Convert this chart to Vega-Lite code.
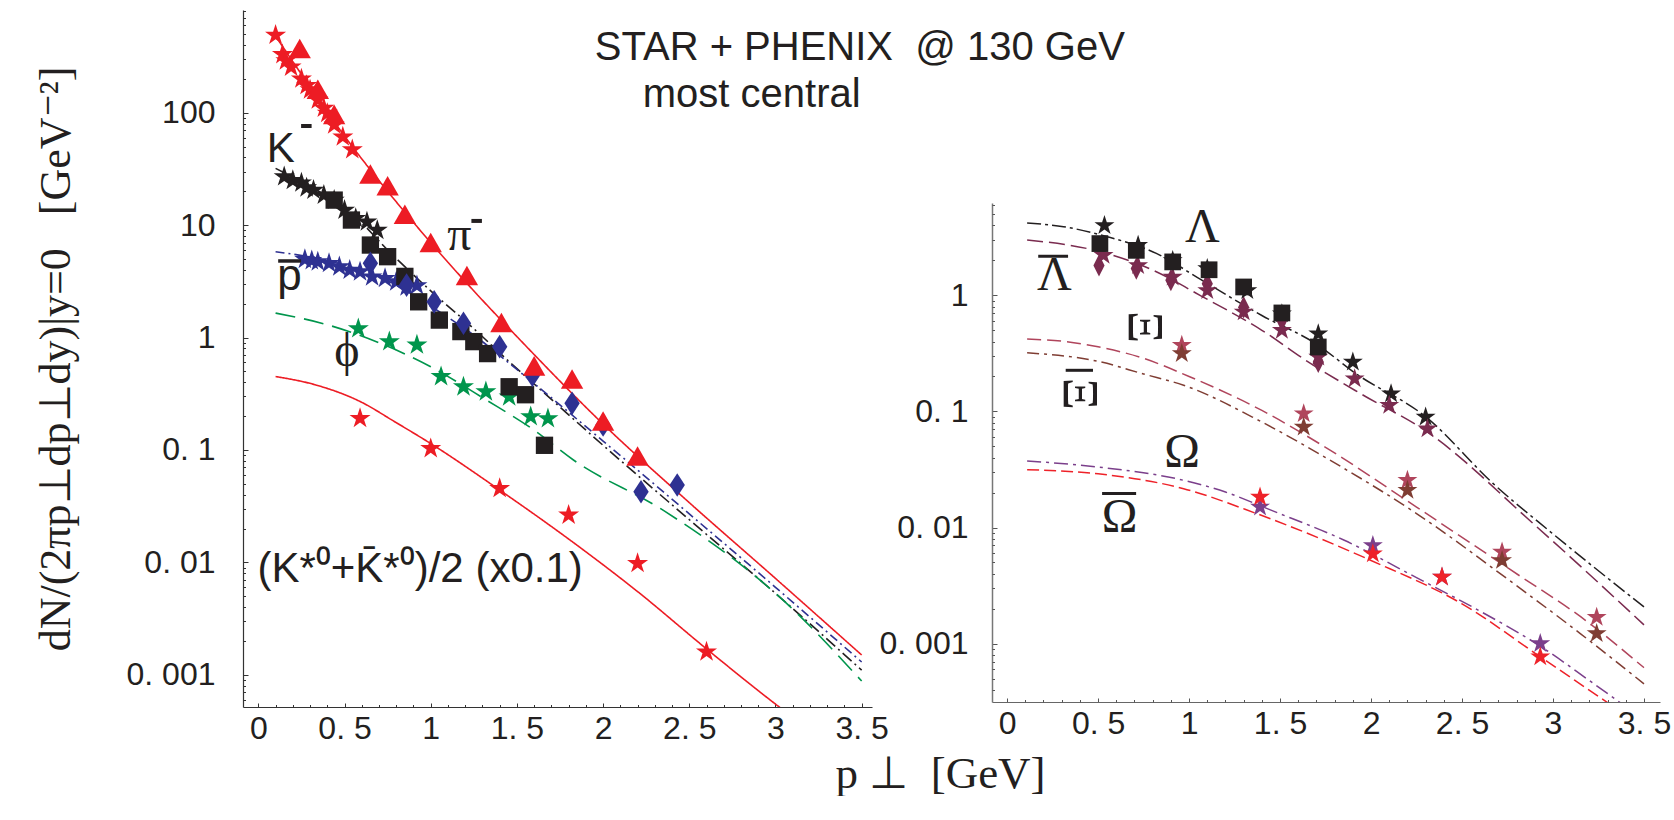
{
  "$schema": "https://vega.github.io/schema/vega-lite/v6.json",
  "padding": {"left": 34, "top": 10, "right": 0, "bottom": 0},
  "autosize": {"type": "pad"},
  "background": "white",
  "config": {"view": {"stroke": null}, "axis": {"grid": false}},
  "bounds": "flush",
  "spacing": 120,
  "datasets": {
    "lc": [
      {"s":"pi","x":0.1,"y":480},{"s":"pi","x":0.3,"y":170},{"s":"pi","x":0.5,"y":62},{"s":"pi","x":0.75,"y":20},{"s":"pi","x":1.0,"y":7.0},{"s":"pi","x":1.25,"y":2.6},{"s":"pi","x":1.5,"y":1.02},{"s":"pi","x":2.0,"y":0.17},{"s":"pi","x":2.5,"y":0.034},{"s":"pi","x":3.0,"y":0.0072},{"s":"pi","x":3.5,"y":0.0015},
      {"s":"K","x":0.1,"y":32},{"s":"K","x":0.3,"y":22},{"s":"K","x":0.5,"y":14.5},{"s":"K","x":0.77,"y":5.6},{"s":"K","x":1.0,"y":2.6},{"s":"K","x":1.25,"y":1.2},{"s":"K","x":1.45,"y":0.62},{"s":"K","x":1.65,"y":0.33},{"s":"K","x":2.0,"y":0.11},{"s":"K","x":2.5,"y":0.024},{"s":"K","x":3.0,"y":0.0053},{"s":"K","x":3.5,"y":0.0011},
      {"s":"pbar","x":0.1,"y":5.8},{"s":"pbar","x":0.3,"y":5.2},{"s":"pbar","x":0.5,"y":4.4},{"s":"pbar","x":0.75,"y":3.2},{"s":"pbar","x":1.0,"y":1.9},{"s":"pbar","x":1.25,"y":1.05},{"s":"pbar","x":1.5,"y":0.52},{"s":"pbar","x":2.0,"y":0.12},{"s":"pbar","x":2.5,"y":0.027},{"s":"pbar","x":3.0,"y":0.006},{"s":"pbar","x":3.5,"y":0.0013},
      {"s":"phi","x":0.1,"y":1.65},{"s":"phi","x":0.4,"y":1.3},{"s":"phi","x":0.7,"y":0.9},{"s":"phi","x":1.0,"y":0.55},{"s":"phi","x":1.32,"y":0.28},{"s":"phi","x":1.6,"y":0.15},{"s":"phi","x":1.83,"y":0.081},{"s":"phi","x":2.35,"y":0.029},{"s":"phi","x":3.08,"y":0.0041},{"s":"phi","x":3.5,"y":0.00088},
      {"s":"Kstar","x":0.1,"y":0.45},{"s":"Kstar","x":0.33,"y":0.38},{"s":"Kstar","x":0.59,"y":0.27},{"s":"Kstar","x":0.8,"y":0.175},{"s":"Kstar","x":1.0,"y":0.114},{"s":"Kstar","x":1.4,"y":0.044},{"s":"Kstar","x":1.86,"y":0.0138},{"s":"Kstar","x":2.2,"y":0.0055},{"s":"Kstar","x":2.6,"y":0.0017},{"s":"Kstar","x":3.02,"y":0.00052},{"s":"Kstar","x":3.1,"y":0.00042}
    ],
    "lp": [
      {"s":"pi","src":"STAR","x":0.10,"y":490},{"s":"pi","src":"STAR","x":0.14,"y":330},{"s":"pi","src":"STAR","x":0.16,"y":290},{"s":"pi","src":"STAR","x":0.19,"y":255},{"s":"pi","src":"STAR","x":0.25,"y":200},{"s":"pi","src":"STAR","x":0.28,"y":175},{"s":"pi","src":"STAR","x":0.30,"y":160},{"s":"pi","src":"STAR","x":0.345,"y":130},{"s":"pi","src":"STAR","x":0.38,"y":110},{"s":"pi","src":"STAR","x":0.40,"y":99},{"s":"pi","src":"STAR","x":0.44,"y":78},{"s":"pi","src":"STAR","x":0.49,"y":61},{"s":"pi","src":"STAR","x":0.545,"y":47},
      {"s":"pi","src":"PHENIX","x":0.24,"y":366},{"s":"pi","src":"PHENIX","x":0.345,"y":159},{"s":"pi","src":"PHENIX","x":0.44,"y":95},{"s":"pi","src":"PHENIX","x":0.65,"y":28},{"s":"pi","src":"PHENIX","x":0.75,"y":22},{"s":"pi","src":"PHENIX","x":0.85,"y":12.3},{"s":"pi","src":"PHENIX","x":1.0,"y":6.9},{"s":"pi","src":"PHENIX","x":1.21,"y":3.5},{"s":"pi","src":"PHENIX","x":1.41,"y":1.34},{"s":"pi","src":"PHENIX","x":1.60,"y":0.55},{"s":"pi","src":"PHENIX","x":1.82,"y":0.42},{"s":"pi","src":"PHENIX","x":2.0,"y":0.178},{"s":"pi","src":"PHENIX","x":2.2,"y":0.087},
      {"s":"K","src":"STAR","x":0.15,"y":27},{"s":"K","src":"STAR","x":0.2,"y":25},{"s":"K","src":"STAR","x":0.25,"y":23.8},{"s":"K","src":"STAR","x":0.28,"y":21.5},{"s":"K","src":"STAR","x":0.32,"y":20.5},{"s":"K","src":"STAR","x":0.38,"y":18.5},{"s":"K","src":"STAR","x":0.44,"y":16.7},{"s":"K","src":"STAR","x":0.50,"y":13.6},{"s":"K","src":"STAR","x":0.565,"y":11.5},{"s":"K","src":"STAR","x":0.63,"y":10.7},{"s":"K","src":"STAR","x":0.69,"y":9.0},
      {"s":"K","src":"PHENIX","x":0.44,"y":16.7},{"s":"K","src":"PHENIX","x":0.54,"y":11.1},{"s":"K","src":"PHENIX","x":0.65,"y":6.65},{"s":"K","src":"PHENIX","x":0.75,"y":5.24},{"s":"K","src":"PHENIX","x":0.85,"y":3.5},{"s":"K","src":"PHENIX","x":0.93,"y":2.08},{"s":"K","src":"PHENIX","x":1.05,"y":1.43},{"s":"K","src":"PHENIX","x":1.175,"y":1.13},{"s":"K","src":"PHENIX","x":1.25,"y":0.92},{"s":"K","src":"PHENIX","x":1.33,"y":0.72},{"s":"K","src":"PHENIX","x":1.455,"y":0.365},{"s":"K","src":"PHENIX","x":1.55,"y":0.31},{"s":"K","src":"PHENIX","x":1.66,"y":0.11},
      {"s":"pbar","src":"STAR","x":0.27,"y":4.96},{"s":"pbar","src":"STAR","x":0.31,"y":4.85},{"s":"pbar","src":"STAR","x":0.345,"y":4.72},{"s":"pbar","src":"STAR","x":0.41,"y":4.57},{"s":"pbar","src":"STAR","x":0.47,"y":4.27},{"s":"pbar","src":"STAR","x":0.53,"y":3.98},{"s":"pbar","src":"STAR","x":0.59,"y":3.85},{"s":"pbar","src":"STAR","x":0.66,"y":3.47},{"s":"pbar","src":"STAR","x":0.735,"y":3.36},{"s":"pbar","src":"STAR","x":0.80,"y":3.14},{"s":"pbar","src":"STAR","x":0.86,"y":2.83},{"s":"pbar","src":"STAR","x":0.92,"y":2.9},
      {"s":"pbar","src":"PHENIX","x":0.65,"y":4.57},{"s":"pbar","src":"PHENIX","x":0.86,"y":2.93},{"s":"pbar","src":"PHENIX","x":1.02,"y":2.08},{"s":"pbar","src":"PHENIX","x":1.19,"y":1.34},{"s":"pbar","src":"PHENIX","x":1.40,"y":0.83},{"s":"pbar","src":"PHENIX","x":1.59,"y":0.46},{"s":"pbar","src":"PHENIX","x":1.82,"y":0.26},{"s":"pbar","src":"PHENIX","x":2.0,"y":0.167},{"s":"pbar","src":"PHENIX","x":2.22,"y":0.0425},{"s":"pbar","src":"PHENIX","x":2.43,"y":0.0488},
      {"s":"phi","src":"STAR","x":0.58,"y":1.2},{"s":"phi","src":"STAR","x":0.76,"y":0.92},{"s":"phi","src":"STAR","x":0.92,"y":0.86},{"s":"phi","src":"STAR","x":1.06,"y":0.45},{"s":"phi","src":"STAR","x":1.19,"y":0.365},{"s":"phi","src":"STAR","x":1.32,"y":0.33},{"s":"phi","src":"STAR","x":1.455,"y":0.297},{"s":"phi","src":"STAR","x":1.58,"y":0.198},{"s":"phi","src":"STAR","x":1.68,"y":0.19},
      {"s":"Kstar","src":"STAR","x":0.59,"y":0.191},{"s":"Kstar","src":"STAR","x":1.0,"y":0.103},{"s":"Kstar","src":"STAR","x":1.4,"y":0.0455},{"s":"Kstar","src":"STAR","x":1.8,"y":0.0264},{"s":"Kstar","src":"STAR","x":2.2,"y":0.0098},{"s":"Kstar","src":"STAR","x":2.6,"y":0.0016}
    ],
    "rc": [
      {"s":"L","x":0.11,"y":4.2},{"s":"L","x":0.31,"y":3.9},{"s":"L","x":0.55,"y":3.2},{"s":"L","x":0.82,"y":2.3},{"s":"L","x":1.07,"y":1.35},{"s":"L","x":1.4,"y":0.67},{"s":"L","x":1.7,"y":0.38},{"s":"L","x":1.92,"y":0.21},{"s":"L","x":2.3,"y":0.09},{"s":"L","x":2.67,"y":0.024},{"s":"L","x":3.0,"y":0.0088},{"s":"L","x":3.5,"y":0.00207},
      {"s":"Lb","x":0.11,"y":3.0},{"s":"Lb","x":0.5,"y":2.4},{"s":"Lb","x":0.8,"y":1.65},{"s":"Lb","x":1.07,"y":0.98},{"s":"Lb","x":1.4,"y":0.5},{"s":"Lb","x":1.65,"y":0.27},{"s":"Lb","x":1.95,"y":0.14},{"s":"Lb","x":2.3,"y":0.068},{"s":"Lb","x":2.9,"y":0.0105},{"s":"Lb","x":3.5,"y":0.00145},
      {"s":"Xi","x":0.11,"y":0.42},{"s":"Xi","x":0.32,"y":0.40},{"s":"Xi","x":0.5,"y":0.36},{"s":"Xi","x":0.74,"y":0.29},{"s":"Xi","x":1.0,"y":0.2},{"s":"Xi","x":1.4,"y":0.102},{"s":"Xi","x":1.75,"y":0.049},{"s":"Xi","x":2.25,"y":0.015},{"s":"Xi","x":2.75,"y":0.0045},{"s":"Xi","x":3.18,"y":0.00158},{"s":"Xi","x":3.5,"y":0.00062},
      {"s":"Xib","x":0.11,"y":0.32},{"s":"Xib","x":0.5,"y":0.27},{"s":"Xib","x":0.75,"y":0.21},{"s":"Xib","x":0.97,"y":0.168},{"s":"Xib","x":1.4,"y":0.081},{"s":"Xib","x":1.75,"y":0.04},{"s":"Xib","x":2.25,"y":0.0132},{"s":"Xib","x":2.75,"y":0.0036},{"s":"Xib","x":3.15,"y":0.00122},{"s":"Xib","x":3.5,"y":0.00045},
      {"s":"Om","x":0.11,"y":0.0374},{"s":"Om","x":0.5,"y":0.0332},{"s":"Om","x":0.97,"y":0.0255},{"s":"Om","x":1.2,"y":0.0202},{"s":"Om","x":1.45,"y":0.0141},{"s":"Om","x":1.85,"y":0.0078},{"s":"Om","x":2.25,"y":0.0037},{"s":"Om","x":2.6,"y":0.0019},{"s":"Om","x":2.93,"y":0.00095},{"s":"Om","x":3.2,"y":0.00048},{"s":"Om","x":3.5,"y":0.00022},
      {"s":"Omb","x":0.11,"y":0.0315},{"s":"Omb","x":0.5,"y":0.029},{"s":"Omb","x":0.97,"y":0.0216},{"s":"Omb","x":1.37,"y":0.0132},{"s":"Omb","x":2.0,"y":0.0052},{"s":"Omb","x":2.5,"y":0.0022},{"s":"Omb","x":2.93,"y":0.00077},{"s":"Omb","x":3.3,"y":0.00031},{"s":"Omb","x":3.5,"y":0.00019}
    ],
    "rp": [
      {"s":"Lb","src":"PHENIX","x":0.505,"y":1.81},{"s":"Lb","src":"PHENIX","x":0.71,"y":1.7},{"s":"Lb","src":"PHENIX","x":0.90,"y":1.35},{"s":"Lb","src":"PHENIX","x":1.10,"y":1.26},{"s":"Lb","src":"PHENIX","x":1.30,"y":0.79},{"s":"Lb","src":"PHENIX","x":1.51,"y":0.61},{"s":"Lb","src":"PHENIX","x":1.71,"y":0.267},
      {"s":"L","src":"STAR","x":0.535,"y":4.0},{"s":"L","src":"STAR","x":0.72,"y":2.7},{"s":"L","src":"STAR","x":0.91,"y":2.0},{"s":"L","src":"STAR","x":1.10,"y":1.7},{"s":"L","src":"STAR","x":1.32,"y":1.1},{"s":"L","src":"STAR","x":1.51,"y":0.695},{"s":"L","src":"STAR","x":1.71,"y":0.467},{"s":"L","src":"STAR","x":1.90,"y":0.267},{"s":"L","src":"STAR","x":2.11,"y":0.142},{"s":"L","src":"STAR","x":2.30,"y":0.0895},
      {"s":"Lb","src":"STAR","x":0.53,"y":2.21},{"s":"Lb","src":"STAR","x":0.72,"y":1.81},{"s":"Lb","src":"STAR","x":0.91,"y":1.44},{"s":"Lb","src":"STAR","x":1.10,"y":1.1},{"s":"Lb","src":"STAR","x":1.30,"y":0.72},{"s":"Lb","src":"STAR","x":1.51,"y":0.5},{"s":"Lb","src":"STAR","x":1.71,"y":0.294},{"s":"Lb","src":"STAR","x":1.91,"y":0.191},{"s":"Lb","src":"STAR","x":2.10,"y":0.113},{"s":"Lb","src":"STAR","x":2.31,"y":0.071},
      {"s":"Xi","src":"STAR","x":0.96,"y":0.371},{"s":"Xi","src":"STAR","x":1.63,"y":0.0957},{"s":"Xi","src":"STAR","x":2.20,"y":0.0255},{"s":"Xi","src":"STAR","x":2.72,"y":0.00615},{"s":"Xi","src":"STAR","x":3.24,"y":0.00169},
      {"s":"Xib","src":"STAR","x":0.96,"y":0.315},{"s":"Xib","src":"STAR","x":1.63,"y":0.0734},{"s":"Xib","src":"STAR","x":2.20,"y":0.0209},{"s":"Xib","src":"STAR","x":2.72,"y":0.00521},{"s":"Xib","src":"STAR","x":3.24,"y":0.00122},
      {"s":"Om","src":"STAR","x":1.39,"y":0.015},{"s":"Om","src":"STAR","x":2.01,"y":0.0070},{"s":"Om","src":"STAR","x":2.39,"y":0.00375},{"s":"Om","src":"STAR","x":2.93,"y":0.001},
      {"s":"Omb","src":"STAR","x":1.39,"y":0.0183},{"s":"Omb","src":"STAR","x":2.01,"y":0.00595},{"s":"Omb","src":"STAR","x":2.39,"y":0.00375},{"s":"Omb","src":"STAR","x":2.93,"y":0.00077},
      {"s":"L","src":"PHENIX","x":0.51,"y":2.79},{"s":"L","src":"PHENIX","x":0.71,"y":2.44},{"s":"L","src":"PHENIX","x":0.91,"y":1.94},{"s":"L","src":"PHENIX","x":1.11,"y":1.66},{"s":"L","src":"PHENIX","x":1.30,"y":1.18},{"s":"L","src":"PHENIX","x":1.51,"y":0.705},{"s":"L","src":"PHENIX","x":1.71,"y":0.359}
    ]
  },
  "hconcat": [
    {
      "width": 629,
      "height": 697,
      "resolve": {"axis": {"x": "independent", "y": "independent"}},
      "layer": [
        {
          "data": {"name": "lc"},
          "mark": {"type": "line", "strokeWidth": 1.6, "clip": true, "interpolate": "monotone"},
          "encoding": {
            "x": {"field": "x", "type": "quantitative", "scale": {"domain": [-0.089, 3.56], "nice": false, "zero": false},
              "axis": {"orient": "bottom", "values": [0, 0.5, 1, 1.5, 2, 2.5, 3, 3.5], "format": "~g", "labelExpr": "replace(datum.label, '.', '. ')", "labelFont": "Liberation Sans", "labelFontSize": 32, "labelColor": "#231F20", "labelPadding": 10, "tickSize": -4, "tickColor": "#333333", "domainColor": "#333333", "domainWidth": 1.2, "labelFlush": false, "labelOverlap": false, "grid": false,
                "title": "p ⊥\u00a0\u00a0[GeV]", "titleFont": "Liberation Serif", "titleFontSize": 45, "titleFontWeight": "normal", "titleColor": "#231F20", "titleX": 697, "titleY": 44}},
            "y": {"field": "y", "type": "quantitative", "scale": {"type": "log", "domain": [0.000517, 820], "nice": false},
              "axis": {"orient": "left", "values": [0.001, 0.01, 0.1, 1, 10, 100], "format": "~g", "labelExpr": "replace(datum.label, '.', '. ')", "labelFont": "Liberation Sans", "labelFontSize": 32, "labelColor": "#231F20", "labelPadding": 33, "tickSize": -5, "tickColor": "#333333", "domainColor": "#333333", "domainWidth": 1.2, "labelOverlap": false, "grid": false,
                "title": "dN/(2πp⊥dp⊥dy)|y=0\u00a0\u00a0\u00a0[GeV⁻²]", "titleFont": "Liberation Serif", "titleFontSize": 44, "titleFontWeight": "normal", "titleColor": "#231F20", "titlePadding": 48}},
            "color": {"field": "s", "type": "nominal", "legend": null, "scale": {"domain": ["pi","K","pbar","phi","Kstar","L","Lb","Xi","Xib","Om","Omb"], "range": ["#ED1C24","#231F20","#2E3192","#00954C","#ED1C24","#231F20","#7A2B4F","#B0455C","#7F3D33","#7B3F8B","#EE2229"]}},
            "strokeDash": {"field": "s", "type": "nominal", "legend": null, "scale": {"domain": ["pi","K","pbar","phi","Kstar","L","Lb","Xi","Xib","Om","Omb"], "range": [[1,0],[12,4,2,4],[9,4,2,4],[20,9],[1,0],[14,4,3,4],[16,6],[14,6],[12,5,3,5],[14,5,3,5],[12,5]]}}
          }
        },
        {
          "data": {"name": "lp"},
          "transform": [{"filter": "datum.src == 'STAR'"}],
          "mark": {"type": "point", "shape": "M0,-1L0.2245,-0.309L0.9511,-0.309L0.3633,0.118L0.5878,0.809L0,0.382L-0.5878,0.809L-0.3633,0.118L-0.9511,-0.309L-0.2245,-0.309Z", "size": 490, "filled": true, "opacity": 1, "strokeWidth": 0},
          "encoding": {
            "x": {"field": "x", "type": "quantitative", "scale": {"domain": [-0.089, 3.56], "nice": false, "zero": false},
              "axis": {"orient": "bottom", "values": [0.1,0.2,0.3,0.4,0.6,0.7,0.8,0.9,1.1,1.2,1.3,1.4,1.6,1.7,1.8,1.9,2.1,2.2,2.3,2.4,2.6,2.7,2.8,2.9,3.1,3.2,3.3,3.4], "labels": false, "domain": false, "tickSize": -2.5, "tickColor": "#333333", "title": null, "grid": false}},
            "y": {"field": "y", "type": "quantitative", "scale": {"type": "log", "domain": [0.000517, 820], "nice": false},
              "axis": {"orient": "left", "values": [0.0006,0.0007,0.0008,0.0009,0.002,0.003,0.004,0.005,0.006,0.007,0.008,0.009,0.02,0.03,0.04,0.05,0.06,0.07,0.08,0.09,0.2,0.3,0.4,0.5,0.6,0.7,0.8,0.9,2,3,4,5,6,7,8,9,20,30,40,50,60,70,80,90,200,300,400,500,600,700,800], "labels": false, "domain": false, "tickSize": -2.5, "tickColor": "#333333", "title": null, "grid": false}},
            "color": {"field": "s", "type": "nominal", "legend": null, "scale": {"domain": ["pi","K","pbar","phi","Kstar","L","Lb","Xi","Xib","Om","Omb"], "range": ["#ED1C24","#231F20","#2E3192","#00954C","#ED1C24","#231F20","#7A2B4F","#B0455C","#7F3D33","#7B3F8B","#EE2229"]}}
          }
        },
        {
          "data": {"name": "lp"},
          "transform": [{"filter": "datum.src == 'PHENIX' && datum.s == 'K'"}],
          "mark": {"type": "point", "shape": "M-1,-1L1,-1L1,1L-1,1Z", "size": 300, "filled": true, "opacity": 1, "strokeWidth": 0, "color": "#231F20"},
          "encoding": {
            "x": {"field": "x", "type": "quantitative", "scale": {"domain": [-0.089, 3.56], "nice": false, "zero": false}, "axis": null},
            "y": {"field": "y", "type": "quantitative", "scale": {"type": "log", "domain": [0.000517, 820], "nice": false}, "axis": null}
          }
        },
        {
          "data": {"name": "lp"},
          "transform": [{"filter": "datum.src == 'PHENIX' && datum.s == 'pbar'"}],
          "mark": {"type": "point", "shape": "M0,-1L0.65,0L0,1L-0.65,0Z", "size": 560, "filled": true, "opacity": 1, "strokeWidth": 0, "color": "#2E3192"},
          "encoding": {
            "x": {"field": "x", "type": "quantitative", "scale": {"domain": [-0.089, 3.56], "nice": false, "zero": false}, "axis": null},
            "y": {"field": "y", "type": "quantitative", "scale": {"type": "log", "domain": [0.000517, 820], "nice": false}, "axis": null}
          }
        },
        {
          "data": {"name": "lp"},
          "transform": [{"filter": "datum.src == 'PHENIX' && datum.s == 'pi'"}],
          "mark": {"type": "point", "shape": "M0,-0.95L1,0.8L-1,0.8Z", "size": 500, "filled": true, "opacity": 1, "strokeWidth": 0, "color": "#ED1C24"},
          "encoding": {
            "x": {"field": "x", "type": "quantitative", "scale": {"domain": [-0.089, 3.56], "nice": false, "zero": false}, "axis": null},
            "y": {"field": "y", "type": "quantitative", "scale": {"type": "log", "domain": [0.000517, 820], "nice": false}, "axis": null}
          }
        },
        {
          "data": {"values": [{}]},
          "mark": {"type": "text", "text": "STAR + PHENIX\u00a0 @ 130 GeV", "font": "Liberation Sans", "fontSize": 40, "align": "left", "baseline": "alphabetic", "color": "#231F20"},
          "encoding": {
            "x": {"datum": 1.952, "type": "quantitative", "scale": {"domain": [-0.089, 3.56], "nice": false, "zero": false}, "axis": null},
            "y": {"datum": 294, "type": "quantitative", "scale": {"type": "log", "domain": [0.000517, 820], "nice": false}, "axis": null}
          }
        },
        {
          "data": {"values": [{}]},
          "mark": {"type": "text", "text": "most central", "font": "Liberation Sans", "fontSize": 40, "align": "left", "baseline": "alphabetic", "color": "#231F20"},
          "encoding": {
            "x": {"datum": 2.23, "type": "quantitative", "scale": {"domain": [-0.089, 3.56], "nice": false, "zero": false}, "axis": null},
            "y": {"datum": 112.4, "type": "quantitative", "scale": {"type": "log", "domain": [0.000517, 820], "nice": false}, "axis": null}
          }
        },
        {
          "data": {"values": [{}]},
          "mark": {"type": "text", "text": "K", "font": "Liberation Sans", "fontSize": 42, "align": "center", "baseline": "alphabetic", "color": "#231F20"},
          "encoding": {
            "x": {"datum": 0.13, "type": "quantitative", "scale": {"domain": [-0.089, 3.56], "nice": false, "zero": false}, "axis": null},
            "y": {"datum": 36.6, "type": "quantitative", "scale": {"type": "log", "domain": [0.000517, 820], "nice": false}, "axis": null}
          }
        },
        {
          "data": {"values": [{}]},
          "mark": {"type": "rule", "strokeWidth": 4, "color": "#231F20"},
          "encoding": {
            "x": {"datum": 0.248, "type": "quantitative", "scale": {"domain": [-0.089, 3.56], "nice": false, "zero": false}, "axis": null},
            "x2": {"datum": 0.309},
            "y": {"datum": 76.2, "type": "quantitative", "scale": {"type": "log", "domain": [0.000517, 820], "nice": false}, "axis": null}
          }
        },
        {
          "data": {"values": [{}]},
          "mark": {"type": "text", "text": "π", "font": "Liberation Serif", "fontSize": 48, "align": "center", "baseline": "alphabetic", "color": "#231F20"},
          "encoding": {
            "x": {"datum": 1.166, "type": "quantitative", "scale": {"domain": [-0.089, 3.56], "nice": false, "zero": false}, "axis": null},
            "y": {"datum": 6.0, "type": "quantitative", "scale": {"type": "log", "domain": [0.000517, 820], "nice": false}, "axis": null}
          }
        },
        {
          "data": {"values": [{}]},
          "mark": {"type": "rule", "strokeWidth": 4, "color": "#231F20"},
          "encoding": {
            "x": {"datum": 1.236, "type": "quantitative", "scale": {"domain": [-0.089, 3.56], "nice": false, "zero": false}, "axis": null},
            "x2": {"datum": 1.297},
            "y": {"datum": 10.9, "type": "quantitative", "scale": {"type": "log", "domain": [0.000517, 820], "nice": false}, "axis": null}
          }
        },
        {
          "data": {"values": [{}]},
          "mark": {"type": "text", "text": "p", "font": "Liberation Sans", "fontSize": 44, "align": "center", "baseline": "alphabetic", "color": "#231F20"},
          "encoding": {
            "x": {"datum": 0.181, "type": "quantitative", "scale": {"domain": [-0.089, 3.56], "nice": false, "zero": false}, "axis": null},
            "y": {"datum": 2.65, "type": "quantitative", "scale": {"type": "log", "domain": [0.000517, 820], "nice": false}, "axis": null}
          }
        },
        {
          "data": {"values": [{}]},
          "mark": {"type": "rule", "strokeWidth": 3.5, "color": "#231F20"},
          "encoding": {
            "x": {"datum": 0.115, "type": "quantitative", "scale": {"domain": [-0.089, 3.56], "nice": false, "zero": false}, "axis": null},
            "x2": {"datum": 0.248},
            "y": {"datum": 4.8, "type": "quantitative", "scale": {"type": "log", "domain": [0.000517, 820], "nice": false}, "axis": null}
          }
        },
        {
          "data": {"values": [{}]},
          "mark": {"type": "text", "text": "ϕ", "font": "Liberation Serif", "fontSize": 48, "align": "center", "baseline": "alphabetic", "color": "#231F20"},
          "encoding": {
            "x": {"datum": 0.514, "type": "quantitative", "scale": {"domain": [-0.089, 3.56], "nice": false, "zero": false}, "axis": null},
            "y": {"datum": 0.557, "type": "quantitative", "scale": {"type": "log", "domain": [0.000517, 820], "nice": false}, "axis": null}
          }
        },
        {
          "data": {"values": [{}]},
          "mark": {"type": "text", "text": "(K*⁰+K̄*⁰)/2 (x0.1)", "font": "Liberation Sans", "fontSize": 42, "align": "left", "baseline": "alphabetic", "color": "#231F20"},
          "encoding": {
            "x": {"datum": -0.005, "type": "quantitative", "scale": {"domain": [-0.089, 3.56], "nice": false, "zero": false}, "axis": null},
            "y": {"datum": 0.00673, "type": "quantitative", "scale": {"type": "log", "domain": [0.000517, 820], "nice": false}, "axis": null}
          }
        }
      ]
    },
    {
      "bounds": "flush",
      "spacing": 0,
      "vconcat": [
        {
          "width": 668,
          "height": 193,
          "data": {"values": [{}]},
          "mark": {"type": "text", "text": " "},
          "encoding": {}
        },
        {
          "width": 668,
          "height": 499,
          "resolve": {"axis": {"x": "independent", "y": "independent"}},
          "layer": [
            {
              "data": {"name": "rc"},
              "mark": {"type": "line", "strokeWidth": 1.5, "clip": true, "interpolate": "monotone"},
              "encoding": {
                "x": {"field": "x", "type": "quantitative", "scale": {"domain": [-0.083, 3.588], "nice": false, "zero": false},
                  "axis": {"orient": "bottom", "values": [0, 0.5, 1, 1.5, 2, 2.5, 3, 3.5], "format": "~g", "labelExpr": "replace(datum.label, '.', '. ')", "labelFont": "Liberation Sans", "labelFontSize": 32, "labelColor": "#231F20", "labelPadding": 10, "tickSize": -4, "tickColor": "#555555", "domainColor": "#666666", "domainWidth": 1.2, "labelFlush": false, "labelOverlap": false, "grid": false, "title": null}},
                "y": {"field": "y", "type": "quantitative", "scale": {"type": "log", "domain": [0.000314, 6.24], "nice": false},
                  "axis": {"orient": "left", "values": [0.001, 0.01, 0.1, 1], "format": "~g", "labelExpr": "replace(datum.label, '.', '. ')", "labelFont": "Liberation Sans", "labelFontSize": 32, "labelColor": "#231F20", "labelPadding": 29, "tickSize": -5, "tickColor": "#555555", "domainColor": "#777777", "domainWidth": 1.5, "labelOverlap": false, "grid": false, "title": null}},
                "color": {"field": "s", "type": "nominal", "legend": null, "scale": {"domain": ["pi","K","pbar","phi","Kstar","L","Lb","Xi","Xib","Om","Omb"], "range": ["#ED1C24","#231F20","#2E3192","#00954C","#ED1C24","#231F20","#7A2B4F","#B0455C","#7F3D33","#7B3F8B","#EE2229"]}},
                "strokeDash": {"field": "s", "type": "nominal", "legend": null, "scale": {"domain": ["pi","K","pbar","phi","Kstar","L","Lb","Xi","Xib","Om","Omb"], "range": [[1,0],[12,4,2,4],[9,4,2,4],[20,9],[1,0],[14,4,3,4],[16,6],[14,6],[12,5,3,5],[14,5,3,5],[12,5]]}}
              }
            },
            {
              "data": {"name": "rp"},
              "transform": [{"filter": "datum.src == 'PHENIX' && datum.s == 'Lb'"}],
              "mark": {"type": "point", "shape": "M0,-1L0.5,0L0,1L-0.5,0Z", "size": 500, "filled": true, "opacity": 1, "strokeWidth": 0, "color": "#7A2B4F"},
              "encoding": {
                "x": {"field": "x", "type": "quantitative", "scale": {"domain": [-0.083, 3.588], "nice": false, "zero": false}, "axis": null},
                "y": {"field": "y", "type": "quantitative", "scale": {"type": "log", "domain": [0.000314, 6.24], "nice": false}, "axis": null}
              }
            },
            {
              "data": {"name": "rp"},
              "transform": [{"filter": "datum.src == 'STAR'"}],
              "mark": {"type": "point", "shape": "M0,-1L0.2245,-0.309L0.9511,-0.309L0.3633,0.118L0.5878,0.809L0,0.382L-0.5878,0.809L-0.3633,0.118L-0.9511,-0.309L-0.2245,-0.309Z", "size": 440, "filled": true, "opacity": 1, "strokeWidth": 0},
              "encoding": {
                "x": {"field": "x", "type": "quantitative", "scale": {"domain": [-0.083, 3.588], "nice": false, "zero": false},
                  "axis": {"orient": "bottom", "values": [0.1,0.2,0.3,0.4,0.6,0.7,0.8,0.9,1.1,1.2,1.3,1.4,1.6,1.7,1.8,1.9,2.1,2.2,2.3,2.4,2.6,2.7,2.8,2.9,3.1,3.2,3.3,3.4], "labels": false, "domain": false, "tickSize": -2.5, "tickColor": "#555555", "title": null, "grid": false}},
                "y": {"field": "y", "type": "quantitative", "scale": {"type": "log", "domain": [0.000314, 6.24], "nice": false},
                  "axis": {"orient": "left", "values": [0.0004,0.0005,0.0006,0.0007,0.0008,0.0009,0.002,0.003,0.004,0.005,0.006,0.007,0.008,0.009,0.02,0.03,0.04,0.05,0.06,0.07,0.08,0.09,0.2,0.3,0.4,0.5,0.6,0.7,0.8,0.9,2,3,4,5,6], "labels": false, "domain": false, "tickSize": -2.5, "tickColor": "#555555", "title": null, "grid": false}},
                "color": {"field": "s", "type": "nominal", "legend": null, "scale": {"domain": ["pi","K","pbar","phi","Kstar","L","Lb","Xi","Xib","Om","Omb"], "range": ["#ED1C24","#231F20","#2E3192","#00954C","#ED1C24","#231F20","#7A2B4F","#B0455C","#7F3D33","#7B3F8B","#EE2229"]}}
              }
            },
            {
              "data": {"name": "rp"},
              "transform": [{"filter": "datum.src == 'PHENIX' && datum.s == 'L'"}],
              "mark": {"type": "point", "shape": "M-1,-1L1,-1L1,1L-1,1Z", "size": 280, "filled": true, "opacity": 1, "strokeWidth": 0, "color": "#231F20"},
              "encoding": {
                "x": {"field": "x", "type": "quantitative", "scale": {"domain": [-0.083, 3.588], "nice": false, "zero": false}, "axis": null},
                "y": {"field": "y", "type": "quantitative", "scale": {"type": "log", "domain": [0.000314, 6.24], "nice": false}, "axis": null}
              }
            },
            {
              "data": {"values": [{}]},
              "mark": {"type": "text", "text": "Λ", "font": "Liberation Serif", "fontSize": 48, "align": "center", "baseline": "alphabetic", "color": "#231F20"},
              "encoding": {
                "x": {"datum": 1.073, "type": "quantitative", "scale": {"domain": [-0.083, 3.588], "nice": false, "zero": false}, "axis": null},
                "y": {"datum": 2.88, "type": "quantitative", "scale": {"type": "log", "domain": [0.000314, 6.24], "nice": false}, "axis": null}
              }
            },
            {
              "data": {"values": [{}]},
              "mark": {"type": "text", "text": "Λ", "font": "Liberation Serif", "fontSize": 48, "align": "center", "baseline": "alphabetic", "color": "#231F20"},
              "encoding": {
                "x": {"datum": 0.26, "type": "quantitative", "scale": {"domain": [-0.083, 3.588], "nice": false, "zero": false}, "axis": null},
                "y": {"datum": 1.104, "type": "quantitative", "scale": {"type": "log", "domain": [0.000314, 6.24], "nice": false}, "axis": null}
              }
            },
            {
              "data": {"values": [{}]},
              "mark": {"type": "rule", "strokeWidth": 3, "color": "#231F20"},
              "encoding": {
                "x": {"datum": 0.171, "type": "quantitative", "scale": {"domain": [-0.083, 3.588], "nice": false, "zero": false}, "axis": null},
                "x2": {"datum": 0.335},
                "y": {"datum": 2.17, "type": "quantitative", "scale": {"type": "log", "domain": [0.000314, 6.24], "nice": false}, "axis": null}
              }
            },
            {
              "data": {"values": [{}]},
              "mark": {"type": "text", "text": "Ξ", "font": "Liberation Serif", "fontSize": 50, "align": "center", "baseline": "middle", "angle": 90, "color": "#231F20"},
              "encoding": {
                "x": {"datum": 0.753, "type": "quantitative", "scale": {"domain": [-0.083, 3.588], "nice": false, "zero": false}, "axis": null},
                "y": {"datum": 0.533, "type": "quantitative", "scale": {"type": "log", "domain": [0.000314, 6.24], "nice": false}, "axis": null}
              }
            },
            {
              "data": {"values": [{}]},
              "mark": {"type": "text", "text": "Ξ", "font": "Liberation Serif", "fontSize": 50, "align": "center", "baseline": "middle", "angle": 90, "color": "#231F20"},
              "encoding": {
                "x": {"datum": 0.393, "type": "quantitative", "scale": {"domain": [-0.083, 3.588], "nice": false, "zero": false}, "axis": null},
                "y": {"datum": 0.142, "type": "quantitative", "scale": {"type": "log", "domain": [0.000314, 6.24], "nice": false}, "axis": null}
              }
            },
            {
              "data": {"values": [{}]},
              "mark": {"type": "rule", "strokeWidth": 3, "color": "#231F20"},
              "encoding": {
                "x": {"datum": 0.322, "type": "quantitative", "scale": {"domain": [-0.083, 3.588], "nice": false, "zero": false}, "axis": null},
                "x2": {"datum": 0.472},
                "y": {"datum": 0.226, "type": "quantitative", "scale": {"type": "log", "domain": [0.000314, 6.24], "nice": false}, "axis": null}
              }
            },
            {
              "data": {"values": [{}]},
              "mark": {"type": "text", "text": "Ω", "font": "Liberation Serif", "fontSize": 48, "align": "center", "baseline": "alphabetic", "color": "#231F20"},
              "encoding": {
                "x": {"datum": 0.961, "type": "quantitative", "scale": {"domain": [-0.083, 3.588], "nice": false, "zero": false}, "axis": null},
                "y": {"datum": 0.0332, "type": "quantitative", "scale": {"type": "log", "domain": [0.000314, 6.24], "nice": false}, "axis": null}
              }
            },
            {
              "data": {"values": [{}]},
              "mark": {"type": "text", "text": "Ω", "font": "Liberation Serif", "fontSize": 48, "align": "center", "baseline": "alphabetic", "color": "#231F20"},
              "encoding": {
                "x": {"datum": 0.618, "type": "quantitative", "scale": {"domain": [-0.083, 3.588], "nice": false, "zero": false}, "axis": null},
                "y": {"datum": 0.00914, "type": "quantitative", "scale": {"type": "log", "domain": [0.000314, 6.24], "nice": false}, "axis": null}
              }
            },
            {
              "data": {"values": [{}]},
              "mark": {"type": "rule", "strokeWidth": 3, "color": "#231F20"},
              "encoding": {
                "x": {"datum": 0.522, "type": "quantitative", "scale": {"domain": [-0.083, 3.588], "nice": false, "zero": false}, "axis": null},
                "x2": {"datum": 0.709},
                "y": {"datum": 0.0196, "type": "quantitative", "scale": {"type": "log", "domain": [0.000314, 6.24], "nice": false}, "axis": null}
              }
            }
          ]
        }
      ]
    }
  ]
}
